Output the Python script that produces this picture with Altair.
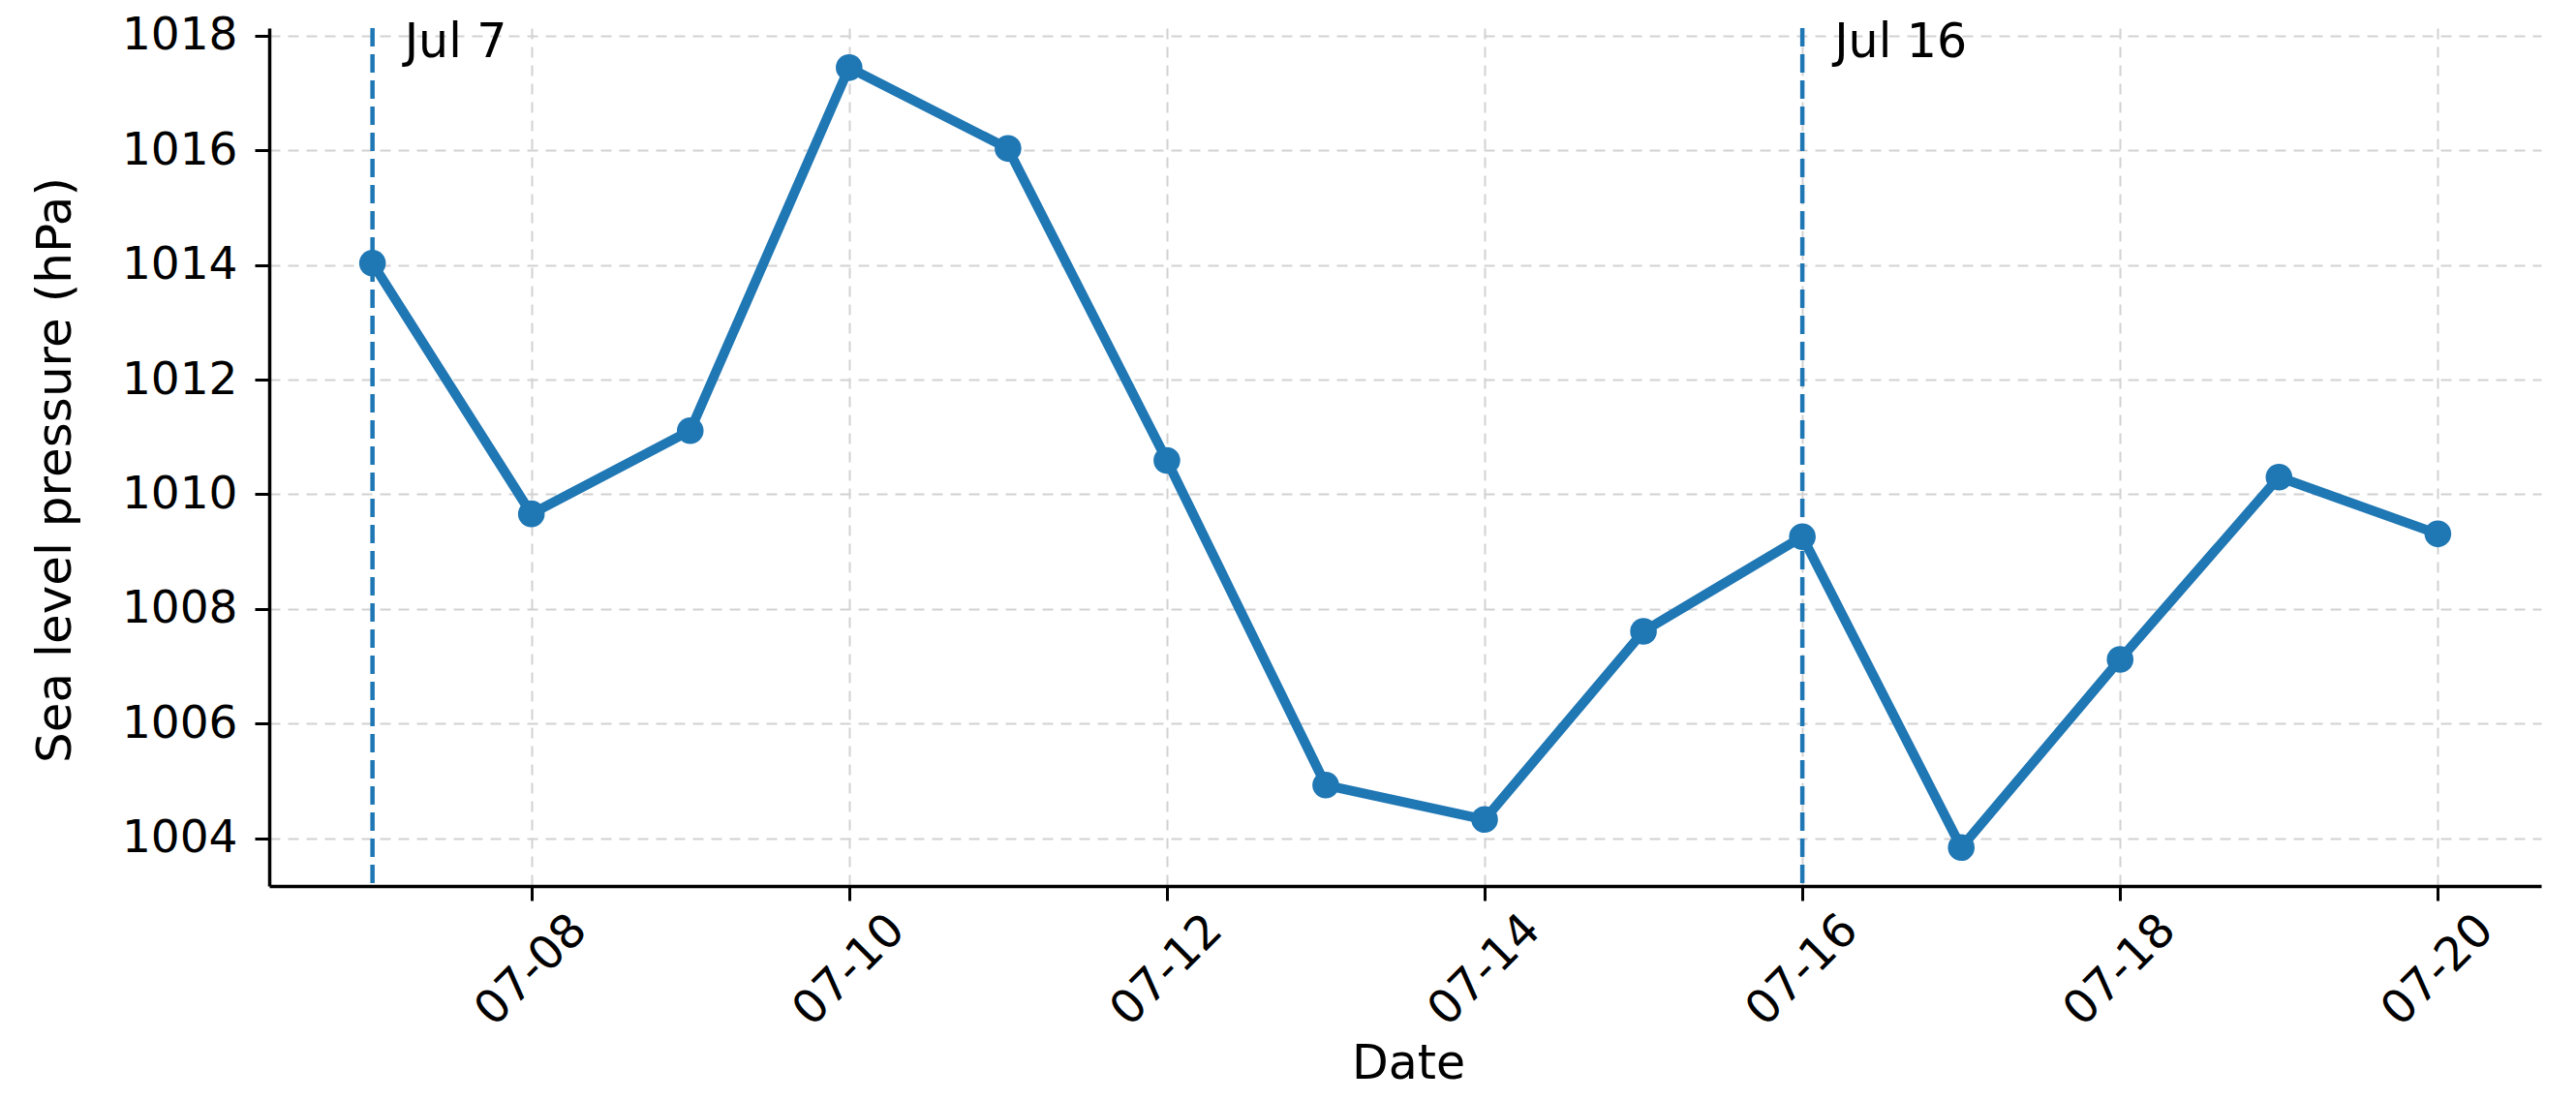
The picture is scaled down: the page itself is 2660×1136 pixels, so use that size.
import altair as alt
import pandas as pd

dates = ["2024-07-07", "2024-07-08", "2024-07-09", "2024-07-10", "2024-07-11",
         "2024-07-12", "2024-07-13", "2024-07-14", "2024-07-15", "2024-07-16",
         "2024-07-17", "2024-07-18", "2024-07-19", "2024-07-20"]
pressure = [1014.03, 1009.66, 1011.11, 1017.44, 1016.03, 1010.59, 1004.93,
            1004.33, 1007.61, 1009.26, 1003.84, 1007.12, 1010.30, 1009.31]
marker_dates = ["2024-07-07", "2024-07-16"]
marker_labels = ["Jul 7", "Jul 16"]
x_tick_days = [8, 10, 12, 14, 16, 18, 20]
y_ticks = [1004, 1006, 1008, 1010, 1012, 1014, 1016, 1018]

BLUE = "#1f77b4"
FONT = "DejaVu Sans"

df = pd.DataFrame({"date": [d + "T00:00:00" for d in dates], "pressure": pressure})
mk = pd.DataFrame({"date": [d + "T00:00:00" for d in marker_dates], "label": marker_labels})

x_scale = alt.Scale(domain=[alt.DateTime(year=2024, month=7, date=6, hours=8, minutes=24),
                            alt.DateTime(year=2024, month=7, date=20, hours=15, minutes=36)])
y_scale = alt.Scale(domain=[1003.17, 1018.13], nice=False, zero=False)

x_axis = alt.Axis(
    values=[alt.DateTime(year=2024, month=7, date=d) for d in x_tick_days],
    format="%m-%d", labelAngle=-45, labelAlign="center", labelBaseline="middle",
    labelPadding=72, labelFontSize=48, labelFont=FONT, labelColor="black",
    tickSize=15, tickWidth=3, tickColor="black",
    domainColor="black", domainWidth=3.5,
    grid=True, gridColor="#d2d2d2", gridDash=[11, 8], gridWidth=2,
    title="Date", titleFont=FONT, titleFontSize=49, titleFontWeight="normal",
    titleColor="black", titleX=1176, titleY=198, titleBaseline="alphabetic",
    titleAlign="center",
)
y_axis = alt.Axis(
    values=y_ticks, format="d", labelFontSize=47, labelFont=FONT, labelColor="black",
    labelPadding=18, tickSize=15, tickWidth=3, tickColor="black",
    domainColor="black", domainWidth=3.5,
    grid=True, gridColor="#d2d2d2", gridDash=[11, 8], gridWidth=2,
    title="Sea level pressure (hPa)", titleFont=FONT, titleFontSize=50,
    titleFontWeight="normal", titleColor="black", titleAngle=-90,
    titleX=-206, titleY=456, titleAlign="center", titleBaseline="alphabetic",
)

base = alt.Chart(df)
line = base.mark_line(color=BLUE, strokeWidth=10).encode(
    x=alt.X("date:T", scale=x_scale, axis=x_axis),
    y=alt.Y("pressure:Q", scale=y_scale, axis=y_axis),
)
points = base.mark_circle(color=BLUE, size=760, opacity=1).encode(
    x=alt.X("date:T", scale=x_scale),
    y=alt.Y("pressure:Q", scale=y_scale),
)
rules = alt.Chart(mk).mark_rule(color=BLUE, strokeWidth=4.5, strokeDash=[19, 8]).encode(
    x=alt.X("date:T", scale=x_scale),
)
texts = alt.Chart(mk).mark_text(
    align="left", baseline="alphabetic", dx=33, font=FONT, fontSize=49, color="black"
).encode(
    x=alt.X("date:T", scale=x_scale),
    y=alt.value(30),
    text="label:N",
)

chart = alt.layer(rules, line, points, texts).properties(
    width=2346, height=886,
    autosize=alt.AutoSizeParams(type="none"),
    padding={"left": 270, "top": 21, "right": 20, "bottom": 212},
    background="white",
).configure_view(strokeWidth=0)

chart.save("out.html", embed_options={"renderer": "svg", "actions": False})
